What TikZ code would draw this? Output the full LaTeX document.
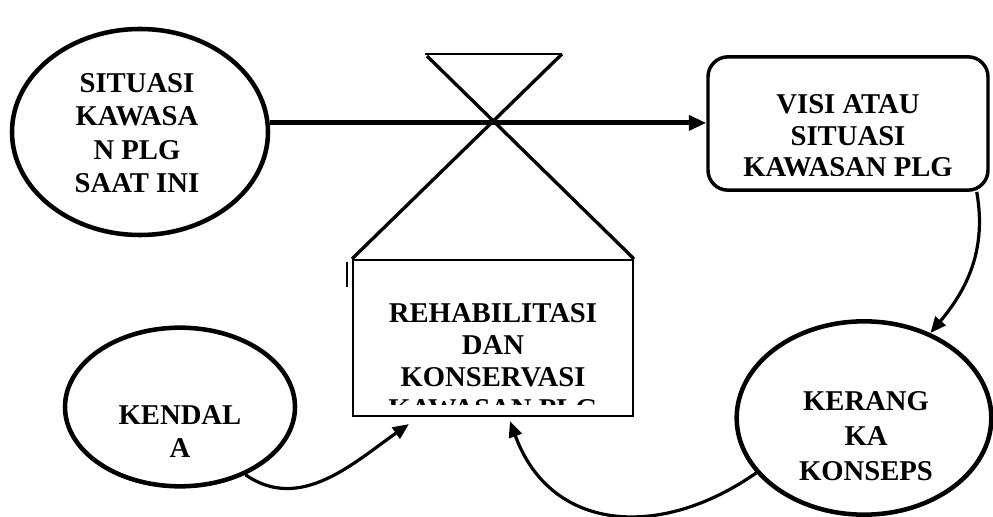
\documentclass[tikz,border=0pt]{standalone}
\usepackage{fontspec}
\setmainfont{Liberation Serif}
\usetikzlibrary{arrows.meta,positioning,calc,shapes.geometric}
\tikzset{
  blob/.style={draw=black, ellipse, line width=3.4pt, inner sep=0pt},
  rbox/.style={draw=black, rectangle, rounded corners=15pt, line width=2.6pt, inner sep=0pt},
  sbox/.style={draw=black, rectangle, line width=1.6pt, inner sep=0pt},
  txt/.style={font=\bfseries\fontsize{21.5}{25}\selectfont, align=center, inner sep=0pt},
  arrow/.style={-{Triangle[length=13pt,width=11pt]}, line width=3.8pt},
  curve/.style={-{Triangle[length=12pt,width=10pt]}, line width=2.4pt},
}

\begin{document}
\begin{tikzpicture}[x=0.75pt,y=-0.75pt]
  \useasboundingbox (0,0) rectangle (993,517);
  % shapes
  \node[blob, minimum width=192pt, minimum height=154.5pt] (situasi) at (140,132) {};
  \node[rbox, minimum width=210pt, minimum height=100pt] (visi) at (848,123.5) {};
  \node[sbox, minimum width=210pt, minimum height=117pt] (rehab) at (493,338) {};
  \node[blob, minimum width=172.5pt, minimum height=119pt] (kendala) at (180,407) {};
  \node[blob, minimum width=191pt, minimum height=145pt] (kerangka) at (864,418) {};
  % texts
  \node[txt] (situasi text) at ($(situasi.center)+(-3,1)$) {SITUASI\\KAWASA\\N PLG\\SAAT INI};
  \begin{scope}
    \clip (712,60) rectangle (985,175);
    \node[txt, font=\bfseries\fontsize{21.5}{23.5}\selectfont] (visi text) at ($(visi.center)+(0,12.5)$) {VISI ATAU\\SITUASI\\KAWASAN PLG};
  \end{scope}
  \begin{scope}
    \clip (356,263) rectangle (630,404);
    \node[txt, font=\bfseries\fontsize{21.5}{24}\selectfont] (rehab text) at ($(rehab.center)+(0,23)$) {REHABILITASI\\DAN\\KONSERVASI\\KAWASAN PLG};
  \end{scope}
  \node[txt] (kendala text) at ($(kendala.center)+(0,24.5)$) {KENDAL\\A};
  \node[txt, font=\bfseries\fontsize{21.5}{26}\selectfont] (kerangka text) at ($(kerangka.center)+(2,18)$) {KERANG\\KA\\KONSEPS};
  % funnel
  \coordinate (funnel l) at (425,54);
  \coordinate (funnel r) at (562,54);
  \draw[line width=1.2pt] (funnel l) -- (funnel r);
  \draw[line width=2.5pt] ($(funnel l)+(2,2)$) -- (rehab.north east);
  \draw[line width=2.5pt] (funnel r) -- (rehab.north west);
  \draw[line width=1.6pt] ($(rehab.north west)+(-5,3)$) -- ++(0,25);
  % connectors
  \draw[arrow] (situasi.4.5) -- (situasi.4.5 -| visi.west);
  \draw[curve] ($(visi.south east)+(-13,0)$) to[out=-80, in=50] (kerangka.52);
  \draw[curve] (kerangka.207) to[out=215, in=-70, looseness=1.2] ($(rehab.south)+(17,4)$);
  \draw[curve] (kendala.-46) to[out=-35, in=215] ($(rehab.south west)+(57,7)$);
\end{tikzpicture}
\end{document}
